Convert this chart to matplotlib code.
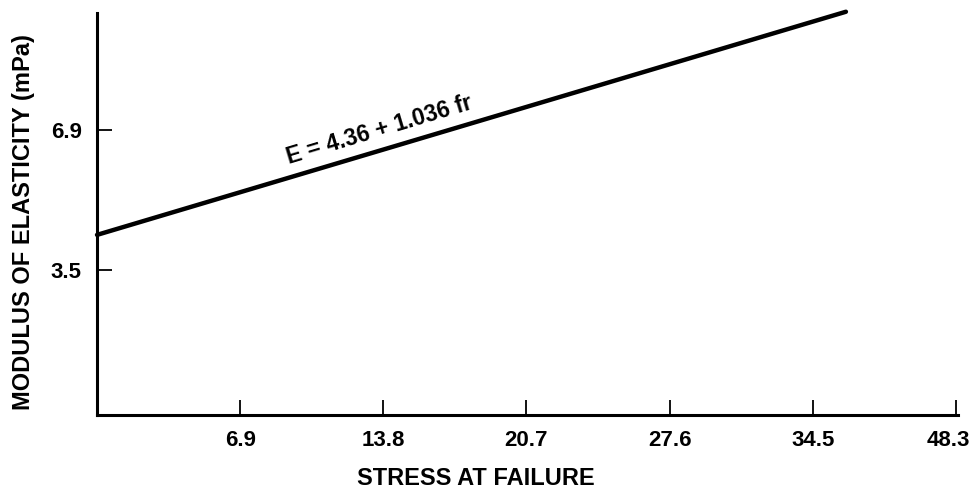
import matplotlib
matplotlib.use("Agg")
import matplotlib.pyplot as plt
import matplotlib.transforms as mtransforms

plt.rcParams['font.family'] = ['Liberation Sans', 'DejaVu Sans']

# regression line E = 4.36 + 1.036 fr, endpoints
stress = [0.0, 36.1]
modulus = [4.36, 9.76]

x_ticks = [6.9, 13.8, 20.7, 27.6, 34.5, 41.4]
x_tick_labels = ['6.9', '13.8', '20.7', '27.6', '34.5', '48.3']
y_ticks = [3.5, 6.9]
y_tick_labels = ['3.5', '6.9']

fig = plt.figure(figsize=(9.75, 4.9), dpi=100)
ax = fig.add_axes([0.0995, 0.153, 0.883, 0.8205])

ax.plot(stress, modulus, color='black', lw=3.2, solid_capstyle='round', clip_on=False)

ax.set_xlim(0, 41.5)
ax.set_ylim(0, 9.73)

for side in ['top', 'right']:
    ax.spines[side].set_visible(False)
for side in ['left', 'bottom']:
    ax.spines[side].set_linewidth(2.2)

ax.set_xticks(x_ticks)
ax.set_xticklabels(x_tick_labels)
ax.set_yticks(y_ticks)
ax.set_yticklabels(y_tick_labels)
ax.tick_params(direction='in', length=11, width=1.3, labelsize=16, pad=11)
for lab in ax.get_xticklabels() + ax.get_yticklabels():
    lab.set_fontweight('bold')

# last label sits a bit left of its tick in the original
last = ax.get_xticklabels()[-1]
last.set_transform(last.get_transform() +
                   mtransforms.ScaledTranslation(-8 / 100, 0, fig.dpi_scale_trans))

ax.set_xlabel('STRESS AT FAILURE', fontsize=17, fontweight='bold')
ax.xaxis.set_label_coords(0.44, -0.13)
ax.set_ylabel('MODULUS OF ELASTICITY (mPa)', fontsize=17, fontweight='bold')
ax.yaxis.set_label_coords(-0.072, 0.48)

ax.text(13.6, 6.9, 'E = 4.36 + 1.036 fr', fontsize=16.5, fontweight='bold',
        rotation=16.7, rotation_mode='anchor', ha='center', va='center')

fig.savefig('out.png', dpi=100)
plt.close(fig)
